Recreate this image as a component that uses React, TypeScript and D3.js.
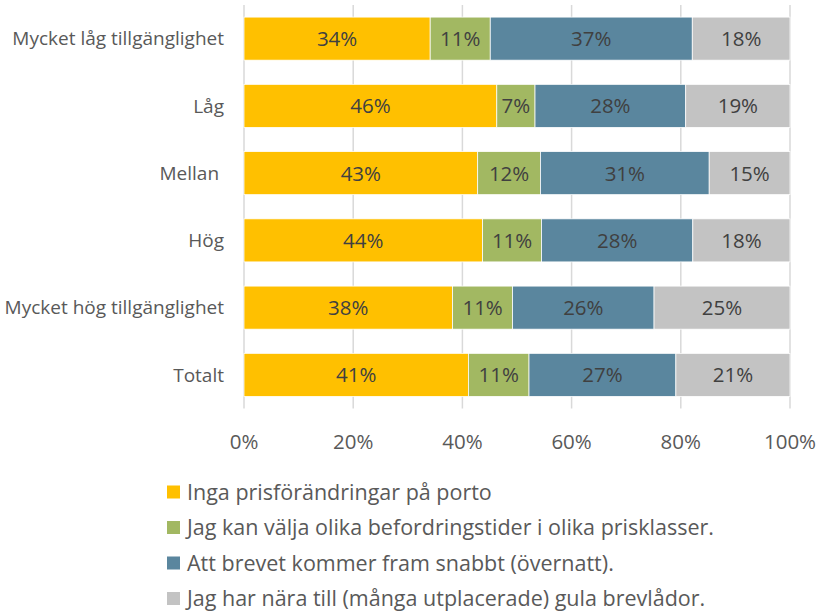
import React, { useRef, useEffect } from 'react';
import * as d3 from 'd3';

// Categories (top to bottom)
const categories = [
  'Mycket låg tillgänglighet',
  'Låg',
  'Mellan ',
  'Hög',
  'Mycket hög tillgänglighet',
  'Totalt',
];

// Series values, percent
const inga = [34.1, 46.3, 42.8, 43.7, 38.2, 41.1];
const valja = [11.0, 7.0, 11.5, 10.8, 11.0, 11.1];
const snabbt = [37.0, 27.6, 30.9, 27.7, 25.9, 26.9];
const nara = [17.9, 19.1, 14.8, 17.8, 24.9, 20.9];

// Printed labels
const ingaLabels = ['34%', '46%', '43%', '44%', '38%', '41%'];
const valjaLabels = ['11%', '7%', '12%', '11%', '11%', '11%'];
const snabbtLabels = ['37%', '28%', '31%', '28%', '26%', '27%'];
const naraLabels = ['18%', '19%', '15%', '18%', '25%', '21%'];

const seriesNames = [
  'Inga prisförändringar på porto',
  'Jag kan välja olika befordringstider i olika prisklasser.',
  'Att brevet kommer fram snabbt (övernatt).',
  'Jag har nära till (många utplacerade) gula brevlådor.',
];
const seriesColors = ['#FFC000', '#A2B862', '#5A869E', '#C3C3C3'];

const xTicks = [0, 20, 40, 60, 80, 100];

const FONT = '"Open Sans", sans-serif';

function App() {
  const svgRef = useRef<SVGSVGElement>(null);
  const width = 822;
  const height = 612;

  useEffect(() => {
    const svg = d3.select(svgRef.current);
    svg.selectAll('*').remove();

    const x0 = 244;
    const x1 = 790;
    const yTop = 5;
    const yBottom = 408.5;

    const xScale = d3.scaleLinear().domain([0, 100]).range([x0, x1]);
    const yScale = d3.scaleBand<string>()
      .domain(categories)
      .range([yTop, yBottom])
      .paddingInner(0.36)
      .paddingOuter(0.18);

    // Grid lines
    svg.append('g')
      .selectAll('line')
      .data(xTicks)
      .enter()
      .append('line')
      .attr('x1', d => xScale(d))
      .attr('x2', d => xScale(d))
      .attr('y1', yTop)
      .attr('y2', yBottom)
      .attr('stroke', '#D9D9D9')
      .attr('stroke-width', 1.5);

    // X tick labels
    svg.append('g')
      .selectAll('text')
      .data(xTicks)
      .enter()
      .append('text')
      .attr('x', d => xScale(d))
      .attr('y', 442)
      .attr('dy', '0.35em')
      .attr('text-anchor', 'middle')
      .style('font-family', FONT)
      .style('font-size', '20.5px')
      .style('fill', '#595959')
      .text(d => `${d}%`);

    // Category labels
    svg.append('g')
      .selectAll('text')
      .data(categories)
      .enter()
      .append('text')
      .attr('x', 224)
      .attr('y', d => (yScale(d) as number) + yScale.bandwidth() / 2)
      .attr('dy', '0.35em')
      .attr('text-anchor', 'end')
      .style('font-family', FONT)
      .style('font-size', '19px')
      .style('white-space', 'pre')
      .style('fill', '#595959')
      .text(d => d);

    // Stack the series
    const rows = categories.map((c, i) => ({
      cat: c,
      s0: inga[i],
      s1: valja[i],
      s2: snabbt[i],
      s3: nara[i],
    }));
    const stack = d3.stack<any>().keys(['s0', 's1', 's2', 's3']);
    const stacked = stack(rows);
    const labelSets = [ingaLabels, valjaLabels, snabbtLabels, naraLabels];

    stacked.forEach((layer, k) => {
      const g = svg.append('g');
      g.selectAll('rect')
        .data(layer)
        .enter()
        .append('rect')
        .attr('x', d => xScale(d[0]))
        .attr('y', d => yScale(d.data.cat) as number)
        .attr('width', d => xScale(d[1]) - xScale(d[0]))
        .attr('height', yScale.bandwidth())
        .attr('fill', seriesColors[k])
        .attr('stroke', '#ffffff')
        .attr('stroke-width', 0.75);

      g.selectAll('text')
        .data(layer)
        .enter()
        .append('text')
        .attr('x', d => (xScale(d[0]) + xScale(d[1])) / 2)
        .attr('y', d => (yScale(d.data.cat) as number) + yScale.bandwidth() / 2)
        .attr('dy', '0.36em')
        .attr('text-anchor', 'middle')
        .style('font-family', FONT)
        .style('font-size', '20.5px')
        .style('fill', '#404040')
        .text((d, i) => labelSets[k][i]);
    });

    // Legend
    const legend = svg.append('g').attr('transform', 'translate(167, 492)');
    seriesNames.forEach((name, k) => {
      legend.append('rect')
        .attr('x', 0)
        .attr('y', k * 35.5 - 6.5)
        .attr('width', 13)
        .attr('height', 13)
        .attr('fill', seriesColors[k]);
      legend.append('text')
        .attr('x', 20)
        .attr('y', k * 35.5)
        .attr('dy', '0.36em')
        .style('font-family', FONT)
        .style('font-size', '21.5px')
        .style('fill', '#595959')
        .text(name);
    });
  }, []);

  return (
    <svg
      ref={svgRef}
      width={width}
      height={height}
      style={{ position: 'absolute', left: 0, top: 0, background: '#ffffff' }}
    />
  );
}

export default App;
